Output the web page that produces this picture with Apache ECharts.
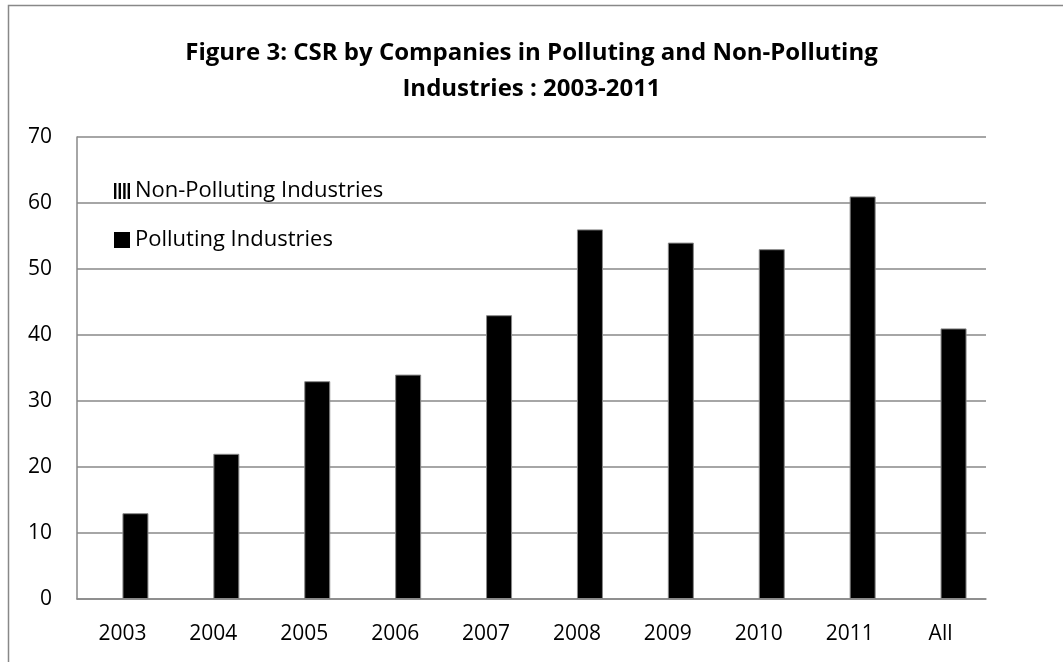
<!DOCTYPE html>
<html>
<head>
<meta charset="utf-8">
<script src="https://cdn.jsdelivr.net/npm/echarts@6/dist/echarts.min.js"></script>
<style>
html,body{margin:0;padding:0;background:#fff;}
#c{width:1063px;height:662px;}
</style>
</head>
<body>
<div id="c"></div>
<script>
const categories = ['2003','2004','2005','2006','2007','2008','2009','2010','2011','All'];
const nonPolluting = [0,0,0,0,0,0,0,0,0,0];
const polluting = [13,22,33,34,43,56,54,53,61,41];
const yTicks = [0,10,20,30,40,50,60,70];

const FONT = 'Open Sans, Liberation Sans, sans-serif';
const chart = echarts.init(document.getElementById('c'));
chart.setOption({
  animation: false,
  backgroundColor: '#fff',
  title: {
    text: 'Figure 3: CSR by Companies in Polluting and Non-Polluting\nIndustries : 2003-2011',
    left: 'center', top: 30,
    textStyle: {fontFamily: FONT, fontWeight: 'bold', fontSize: 24, lineHeight: 36, color: '#000'}
  },
  graphic: [{
    type: 'rect', silent: true, z: -1,
    shape: {x: 8.5, y: 5.5, width: 1200, height: 800},
    style: {fill: null, stroke: '#888', lineWidth: 1.5}
  }],
  legend: {
    orient: 'vertical', left: 109, top: 175, itemGap: 27,
    itemWidth: 16, itemHeight: 16,
    textStyle: {fontFamily: FONT, fontSize: 22, color: '#000'},
    data: [
      {name: 'Non-Polluting Industries', icon: 'path://M0,0h1.2v8h-1.2zM2.3,0h1.2v8h-1.2zM4.6,0h1.2v8h-1.2zM6.8,0h1.2v8h-1.2z', itemStyle: {color: '#000', borderWidth: 0}},
      {name: 'Polluting Industries', icon: 'rect', itemStyle: {color: '#000', borderWidth: 0}}
    ]
  },
  grid: {left: 77, right: 77, top: 137, bottom: 63, containLabel: false},
  xAxis: {
    type: 'category', data: categories,
    axisLine: {show: true, lineStyle: {color: '#888', width: 1.5}},
    axisTick: {show: false},
    axisLabel: {fontFamily: FONT, fontSize: 21, color: '#000', margin: 25}
  },
  yAxis: {
    type: 'value', min: 0, max: 70, interval: 10,
    axisLine: {show: true, lineStyle: {color: '#888', width: 1.5}},
    axisTick: {show: false},
    splitLine: {lineStyle: {color: '#888', width: 1.5}},
    axisLabel: {fontFamily: FONT, fontSize: 21, color: '#000', margin: 25,
      formatter: v => yTicks.includes(v) ? String(v) : ''}
  },
  series: [
    {name: 'Non-Polluting Industries', type: 'bar', data: nonPolluting, barWidth: 26, barGap: '0%',
     itemStyle: {color: '#fff', borderColor: '#000', borderWidth: 0}},
    {name: 'Polluting Industries', type: 'bar', data: polluting, barWidth: 26, barGap: '0%',
     itemStyle: {color: '#000', borderColor: '#888', borderWidth: 1}}
  ]
});
</script>
</body>
</html>
